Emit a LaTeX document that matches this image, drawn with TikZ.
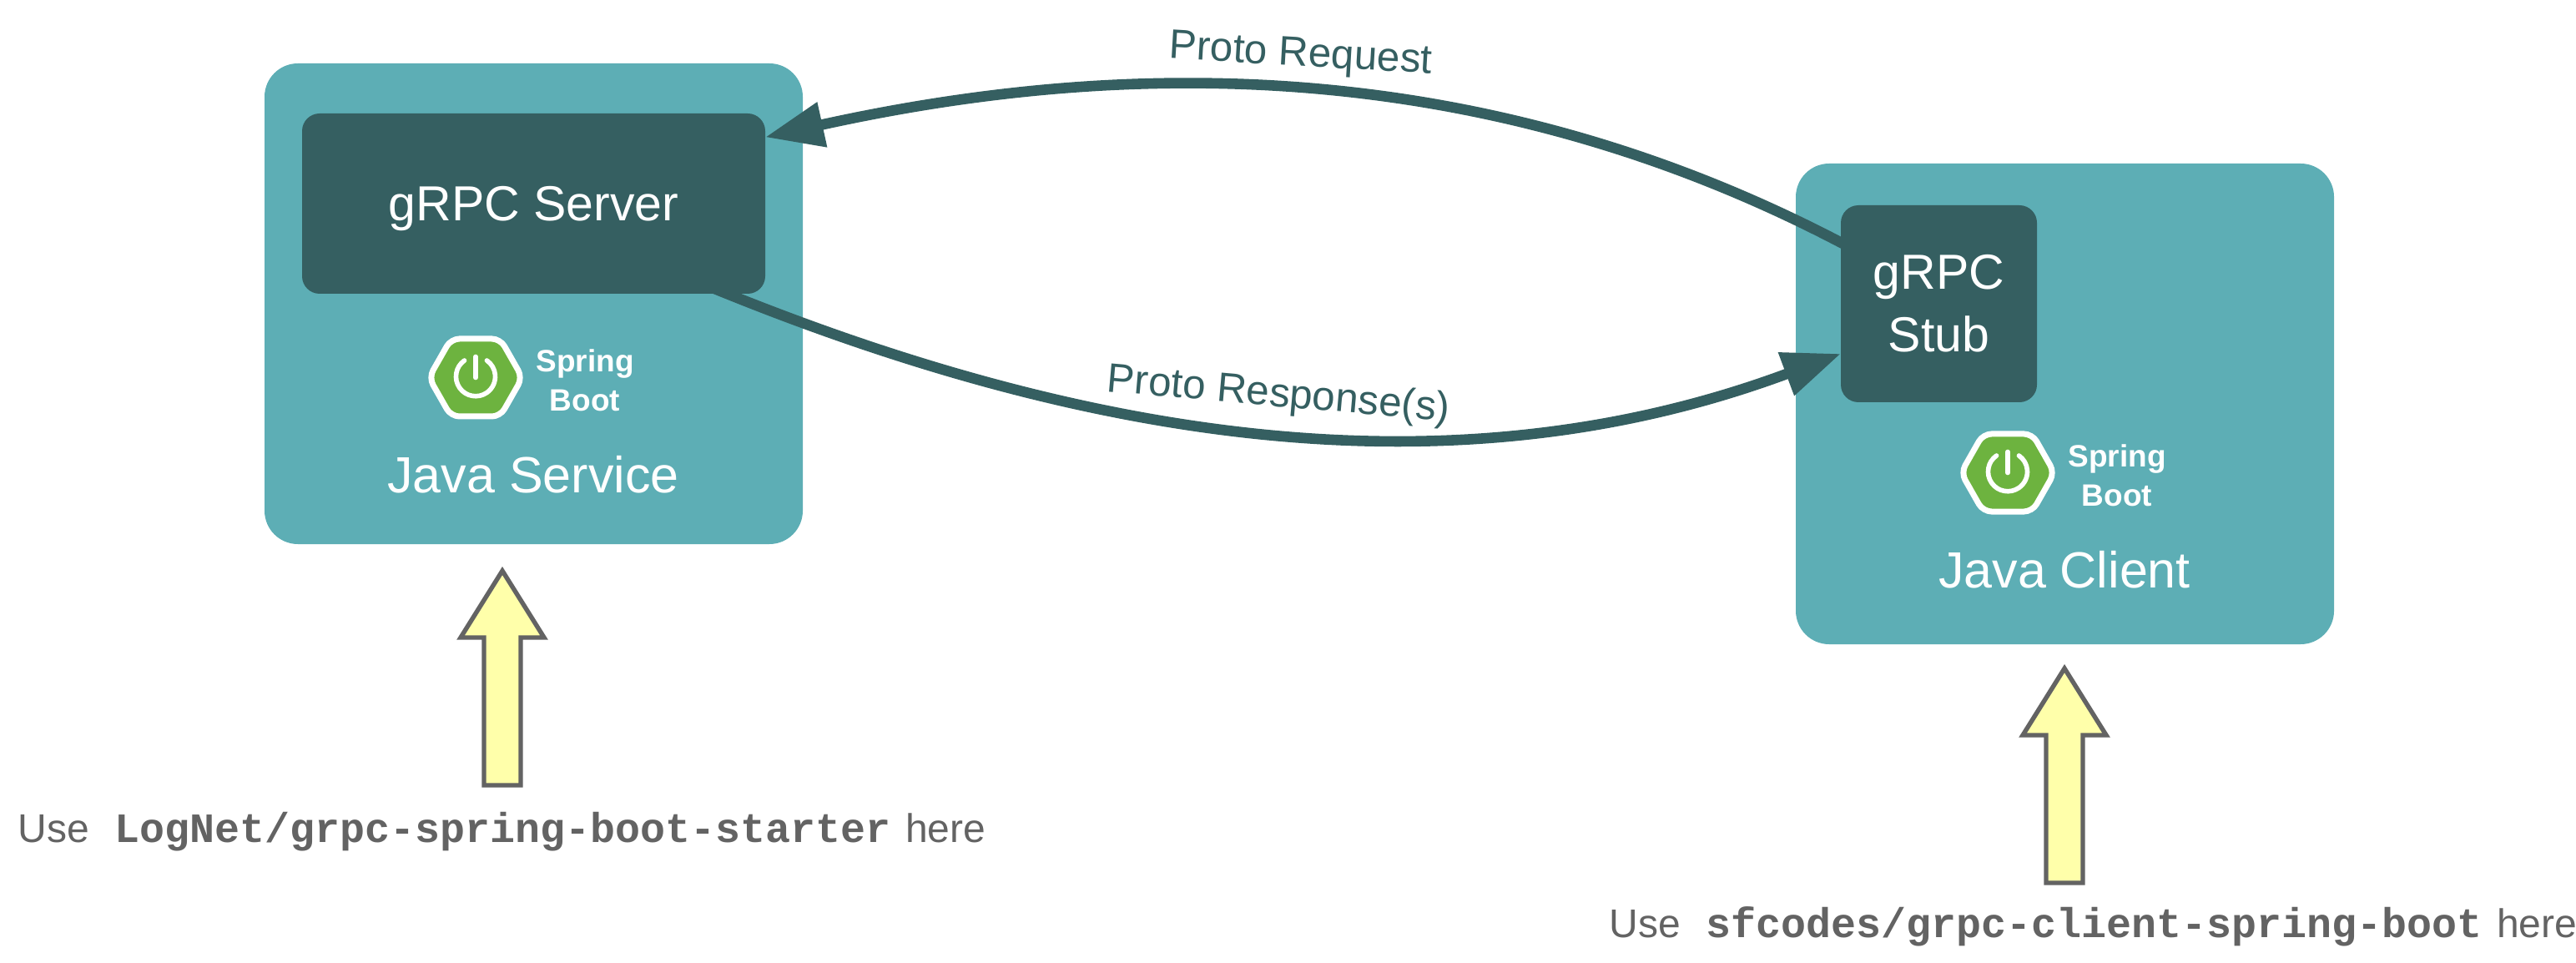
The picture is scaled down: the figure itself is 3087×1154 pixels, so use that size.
\documentclass[tikz,border=0pt]{standalone}
\usepackage{fontspec}
\setmainfont{Liberation Sans}
\setmonofont{Liberation Mono}
\usepackage{xcolor}
\usetikzlibrary{arrows.meta}

\definecolor{svcteal}{HTML}{5DAEB5}
\definecolor{darkteal}{HTML}{355F61}
\definecolor{springgreen}{HTML}{6DB33F}
\definecolor{hintyellow}{HTML}{FFFFAA}
\definecolor{hintgray}{HTML}{636363}

\tikzset{
  svcbox/.style={fill=svcteal, minimum width=322.5pt, minimum height=288pt, rounded corners=20pt, inner sep=0pt, outer sep=0pt},
  grpcbox/.style={fill=darkteal, text=white, rounded corners=10.5pt, inner sep=0pt, outer sep=0pt, align=center, font=\fontsize{29.5}{37.5}\selectfont},
  svclabel/.style={text=white, anchor=base, inner sep=0pt, font=\fontsize{30.5}{36}\selectfont},
  flowline/.style={draw=darkteal, line width=6.3pt, shorten <=-8pt, -{Triangle[length=35pt,width=26pt]}},
  flowlabel/.style={text=darkteal, anchor=base, inner sep=0pt, font=\fontsize{24.7}{29}\selectfont},
  hintarrow/.style={draw=hintgray, fill=hintyellow, line width=2.7pt, miter limit=10},
  hinttext/.style={text=hintgray, anchor=base, inner sep=0pt, font=\fontsize{24}{29}\selectfont},
  logotext/.style={text=white, inner sep=0pt, align=center, font=\bfseries\fontsize{18.5}{23.5}\selectfont},
  logohex/.style={draw=white, fill=springgreen, line width=3.5pt, rounded corners=5pt},
  logopower/.style={draw=white, line width=2.8pt, line cap=round},
  springlogo/.pic={
    \draw[logohex] (-56,0) -- (-29.5,-46.5) -- (29.5,-46.5) -- (56,0) -- (29.5,46.5) -- (-29.5,46.5) -- cycle;
    \draw[logopower] (-13.5,-20.5) arc[start angle=125, end angle=415, radius=11.75pt];
    \draw[logopower] (0,-25) -- (0,0);
    \node[logotext] (-label) at (131,3) {Spring\\Boot};
  }
}

\newcommand{\repo}[1]{{\fontsize{25}{29}\selectfont\ttfamily\bfseries #1}}

\begin{document}
\begin{tikzpicture}[x=0.5pt, y=-0.5pt]
\useasboundingbox (0,0) rectangle (3087,1154);

% java service on the left
\node[svcbox] (service) at (639.5,364) {};
\node[grpcbox, minimum width=277.5pt, minimum height=108pt, text depth=0pt] (server) at (639.5,244) {gRPC Server};
\pic (servicelogo) at (570,452.5) {springlogo};
\node[svclabel] (servicename) at (639,590) {Java Service};

% java client on the right
\node[svcbox] (client) at (2474.5,484) {};
\node[grpcbox, minimum width=117.5pt, minimum height=118pt] (stub) at (2323.5,364) {gRPC\\Stub};
\pic (clientlogo) at (2406,566.5) {springlogo};
\node[svclabel] (clientname) at (2474,704) {Java Client};

% calls between them
\draw[flowline] (stub.148) .. controls (1750,47) and (1300,80) .. (server.16);
\draw[flowline] (server.-25) .. controls (1322,536) and (1754,592) .. (stub.207);
\node[flowlabel, rotate=-3.3] (request) at (1558,79) {Proto Request};
\node[flowlabel, rotate=-5] (response) at (1531,487) {Proto Response(s)};

% hints below the boxes
\draw[hintarrow] (602,684) -- (652,764) -- (624,764) -- (624,941) -- (580,941) -- (580,764) -- (552,764) -- cycle;
\node[hinttext] (starter) at (601.5,1009) {Use\hspace{15pt}\repo{LogNet/grpc-spring-boot-starter}\hspace{9pt}here};
\draw[hintarrow] (2474,801) -- (2524,881) -- (2496,881) -- (2496,1058) -- (2452,1058) -- (2452,881) -- (2424,881) -- cycle;
\node[hinttext] (clientlib) at (2508.5,1123) {Use\hspace{15pt}\repo{sfcodes/grpc-client-spring-boot}\hspace{9pt}here};
\end{tikzpicture}
\end{document}
